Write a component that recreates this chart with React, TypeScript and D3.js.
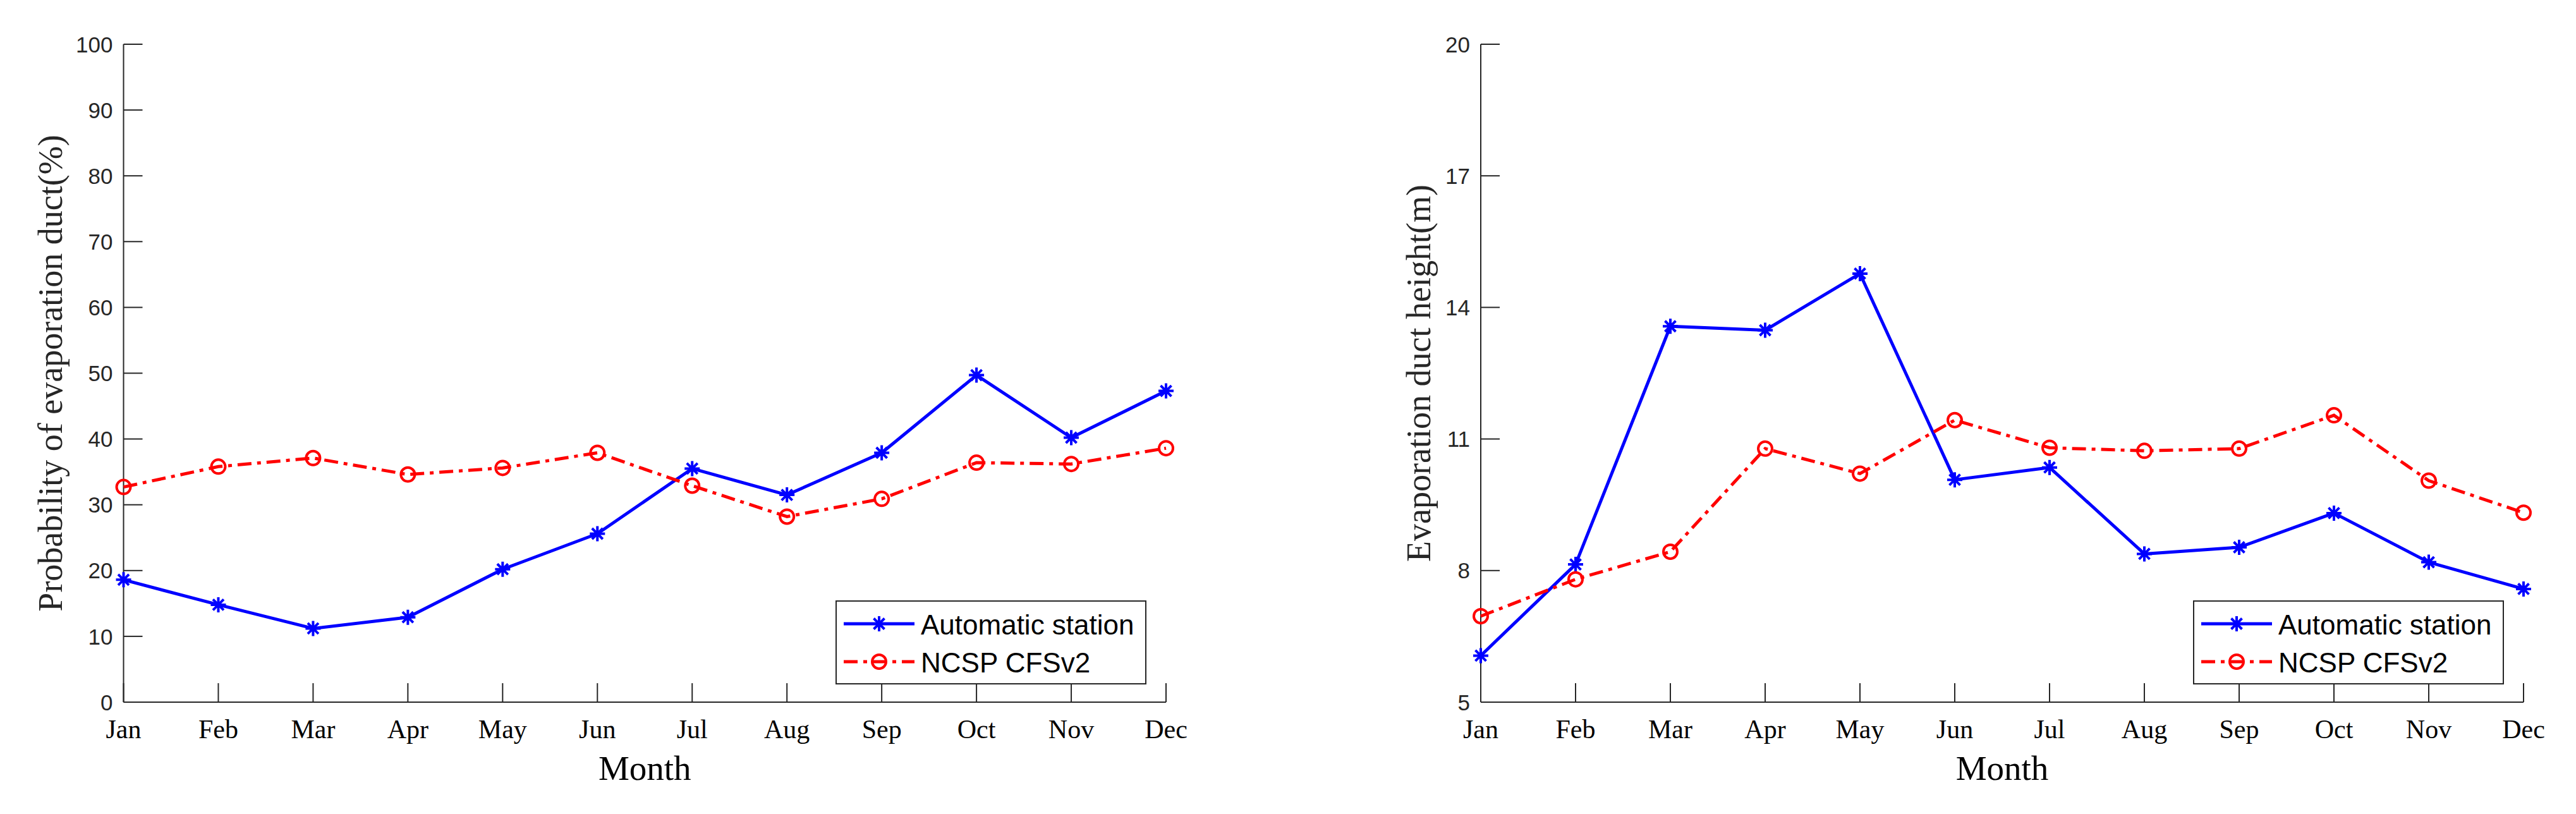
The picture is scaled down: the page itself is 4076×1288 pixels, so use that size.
import React from 'react';
import * as d3 from 'd3';

const months = ['Jan', 'Feb', 'Mar', 'Apr', 'May', 'Jun', 'Jul', 'Aug', 'Sep', 'Oct', 'Nov', 'Dec'];
const seriesNames = ['Automatic station', 'NCSP CFSv2'];

const probTicks = [0, 10, 20, 30, 40, 50, 60, 70, 80, 90, 100];
const probStation = [18.6, 14.8, 11.2, 12.9, 20.2, 25.6, 35.5, 31.5, 37.9, 49.7, 40.2, 47.3];
const probCfs = [32.7, 35.8, 37.1, 34.6, 35.6, 37.9, 32.9, 28.2, 30.9, 36.4, 36.2, 38.6];

const heightTicks = [5, 8, 11, 14, 17, 20];
const heightStation = [6.06, 8.14, 13.57, 13.48, 14.77, 10.07, 10.35, 8.38, 8.53, 9.31, 8.19, 7.58];
const heightCfs = [6.96, 7.8, 8.43, 10.78, 10.21, 11.43, 10.8, 10.73, 10.78, 11.54, 10.05, 9.32];

const AX = '#262626';
const BLUE = '#0000ff';
const RED = '#ff0000';
const SANS = '"Liberation Sans", Arial, sans-serif';
const SERIF = '"Liberation Serif", "Times New Roman", serif';
const DASHDOT = '22 9 6 9';

function Asterisk({ x, y, r = 12 }: { x: number; y: number; r?: number }) {
  const d = [0, 45, 90, 135]
    .map((a) => {
      const t = (a * Math.PI) / 180;
      const dx = Math.cos(t) * r;
      const dy = Math.sin(t) * r;
      return `M${x - dx},${y - dy}L${x + dx},${y + dy}`;
    })
    .join('');
  return <path d={d} stroke={BLUE} strokeWidth={4} fill="none" />;
}

function Circle({ x, y }: { x: number; y: number }) {
  return <circle cx={x} cy={y} r={11} stroke={RED} strokeWidth={4} fill="none" />;
}

type PanelProps = {
  x0: number;
  x1: number;
  domain: [number, number];
  ticks: number[];
  station: number[];
  cfs: number[];
  yTitle: string;
  titleX: number;
};

function Panel({ x0, x1, domain, ticks, station, cfs, yTitle, titleX }: PanelProps) {
  const top = 70;
  const bottom = 1111;
  const x = d3.scalePoint<string>().domain(months).range([x0, x1]);
  const y = d3.scaleLinear().domain(domain).range([bottom, top]);
  const line = d3
    .line<number>()
    .x((_, i) => x(months[i]) as number)
    .y((d) => y(d));
  const midY = (top + bottom) / 2;
  const midX = (x0 + x1) / 2;

  const lw = 490;
  const lh = 131;
  const lx = x1 - 32 - lw;
  const ly = bottom - 29 - lh;

  return (
    <g>
      {/* axes */}
      <line x1={x0} y1={top} x2={x0} y2={bottom} stroke={AX} strokeWidth={2} />
      <line x1={x0} y1={bottom} x2={x1} y2={bottom} stroke={AX} strokeWidth={2} />
      {ticks.map((t) => (
        <g key={'y' + t}>
          <line x1={x0} x2={x0 + 30} y1={y(t)} y2={y(t)} stroke={AX} strokeWidth={2} />
          <text
            x={x0 - 17}
            y={y(t)}
            dy="0.36em"
            textAnchor="end"
            fontFamily={SANS}
            fontSize={35}
            fill={AX}
          >
            {t}
          </text>
        </g>
      ))}
      {months.map((m) => (
        <g key={'x' + m}>
          <line x1={x(m)} x2={x(m)} y1={bottom} y2={bottom - 30} stroke={AX} strokeWidth={2} />
          <text x={x(m)} y={1168} textAnchor="middle" fontFamily={SERIF} fontSize={42} fill="#000">
            {m}
          </text>
        </g>
      ))}
      <text x={midX} y={1234} textAnchor="middle" fontFamily={SERIF} fontSize={55} fill="#000">
        Month
      </text>
      <text
        x={titleX}
        y={midY}
        transform={`rotate(-90, ${titleX}, ${midY})`}
        textAnchor="middle"
        fontFamily={SERIF}
        fontSize={54}
        fill={AX}
      >
        {yTitle}
      </text>

      {/* series */}
      <path d={line(station) || ''} stroke={BLUE} strokeWidth={5} fill="none" strokeLinejoin="round" />
      {station.map((v, i) => (
        <Asterisk key={'s' + i} x={x(months[i]) as number} y={y(v)} />
      ))}
      <path
        d={line(cfs) || ''}
        stroke={RED}
        strokeWidth={5}
        fill="none"
        strokeDasharray={DASHDOT}
      />
      {cfs.map((v, i) => (
        <Circle key={'c' + i} x={x(months[i]) as number} y={y(v)} />
      ))}

      {/* legend */}
      <rect x={lx} y={ly} width={lw} height={lh} fill="#fff" stroke={AX} strokeWidth={2} />
      <line x1={lx + 12} x2={lx + 124} y1={ly + 36} y2={ly + 36} stroke={BLUE} strokeWidth={5} />
      <Asterisk x={lx + 68} y={ly + 36} />
      <text x={lx + 134} y={ly + 53} fontFamily={SANS} fontSize={44} fill="#000">
        {seriesNames[0]}
      </text>
      <line
        x1={lx + 12}
        x2={lx + 124}
        y1={ly + 96}
        y2={ly + 96}
        stroke={RED}
        strokeWidth={5}
        strokeDasharray={DASHDOT}
      />
      <Circle x={lx + 68} y={ly + 96} />
      <text x={lx + 134} y={ly + 113} fontFamily={SANS} fontSize={44} fill="#000">
        {seriesNames[1]}
      </text>
    </g>
  );
}

export default function App() {
  return (
    <div style={{ position: 'absolute', left: 0, top: 0 }}>
      <svg width={4076} height={1288} style={{ display: 'block', background: '#fff' }}>
        <rect x={0} y={0} width={4076} height={1288} fill="#fff" />
        <Panel
          x0={195.5}
          x1={1845}
          domain={[0, 100]}
          ticks={probTicks}
          station={probStation}
          cfs={probCfs}
          yTitle="Probability of evaporation duct(%)"
          titleX={98}
        />
        <Panel
          x0={2343}
          x1={3993}
          domain={[5, 20]}
          ticks={heightTicks}
          station={heightStation}
          cfs={heightCfs}
          yTitle="Evaporation duct height(m)"
          titleX={2263}
        />
      </svg>
    </div>
  );
}
